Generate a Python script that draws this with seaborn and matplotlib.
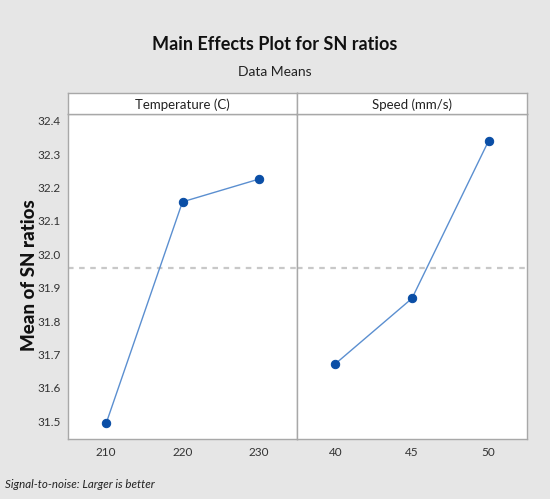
import matplotlib
matplotlib.use("Agg")
import matplotlib.pyplot as plt
import seaborn as sns
import pandas as pd

# Data
temp_levels = [210, 220, 230]
temp_sn = [31.494, 32.157, 32.225]
speed_levels = [40, 45, 50]
speed_sn = [31.672, 31.868, 32.340]
factor_names = ["Temperature (C)", "Speed (mm/s)"]

sns.set_style("white")
plt.rcParams['font.family'] = ['Lato', 'DejaVu Sans']

W, H = 550, 499
fig = plt.figure(figsize=(W / 100, H / 100), dpi=100)
fig.patch.set_facecolor("#e6e6e6")

left, right = 68 / W, 527 / W
mid = 297 / W
bottom = 1 - 439 / H
top = 1 - 114 / H
strip_top = 1 - 93 / H

overall_mean = (sum(temp_sn) + sum(speed_sn)) / 6.0
ylim = (31.447, 32.42)

line_col = "#5b8fd0"
mark_col = "#0a4ea6"
edge_col = "#a8a8a8"

panels = [
    (left, mid, temp_levels, temp_sn, factor_names[0]),
    (mid, right, speed_levels, speed_sn, factor_names[1]),
]
yt = [31.5, 31.6, 31.7, 31.8, 31.9, 32.0, 32.1, 32.2, 32.3, 32.4]
for i, (x0, x1, lv, vals, name) in enumerate(panels):
    ax = fig.add_axes([x0, bottom, x1 - x0, top - bottom])
    df = pd.DataFrame({"level": lv, "sn": vals})
    sns.lineplot(data=df, x="level", y="sn", ax=ax, color=line_col, lw=1.0,
                 marker="o", markersize=6, markerfacecolor=mark_col,
                 markeredgecolor=mark_col, zorder=3)
    ax.axhline(overall_mean, color="#c8c8c8", lw=1.6, ls=(0, (2.5, 2.5)), zorder=1)
    span = lv[-1] - lv[0]
    ax.set_xlim(lv[0] - 0.25 * span, lv[-1] + 0.25 * span)
    ax.set_ylim(*ylim)
    ax.set_xticks(lv)
    ax.set_xticklabels([str(v) for v in lv])
    ax.set_xlabel("")
    ax.set_ylabel("")
    ax.set_facecolor("white")
    for s in ax.spines.values():
        s.set_color(edge_col)
        s.set_linewidth(1.0)
    ax.tick_params(axis="both", which="both", direction="out", length=3,
                   color="#a0a0a0", labelsize=8.5, labelcolor="#333333", width=0.8,
                   pad=2.5)
    ax.set_yticks(yt)
    if i == 0:
        ax.set_yticklabels([f"{v:.1f}" for v in yt])
    else:
        ax.tick_params(axis="y", left=False, labelleft=False)
    # strip
    sax = fig.add_axes([x0, top, x1 - x0, strip_top - top])
    sax.set_facecolor("white")
    sax.set_xticks([])
    sax.set_yticks([])
    for s in sax.spines.values():
        s.set_color(edge_col)
        s.set_linewidth(1.0)
    sax.text(0.5, 0.45, name, ha="center", va="center", fontsize=9.5,
             color="#222222", transform=sax.transAxes)

fig.text(0.5, 1 - 45 / H, "Main Effects Plot for SN ratios", ha="center",
         va="center", fontsize=13, fontweight="bold", color="#111111")
fig.text(0.5, 1 - 72 / H, "Data Means", ha="center", va="center",
         fontsize=10, color="#222222")
fig.text(30 / W, 1 - 275 / H, "Mean of SN ratios", rotation=90, ha="center",
         va="center", fontsize=13.5, fontweight="black", color="#111111")
fig.text(5 / W, 1 - 484 / H, "Signal-to-noise: Larger is better", ha="left",
         va="center", fontsize=8.3, style="italic", color="#222222")

fig.savefig("out.png", dpi=100, facecolor=fig.get_facecolor())
